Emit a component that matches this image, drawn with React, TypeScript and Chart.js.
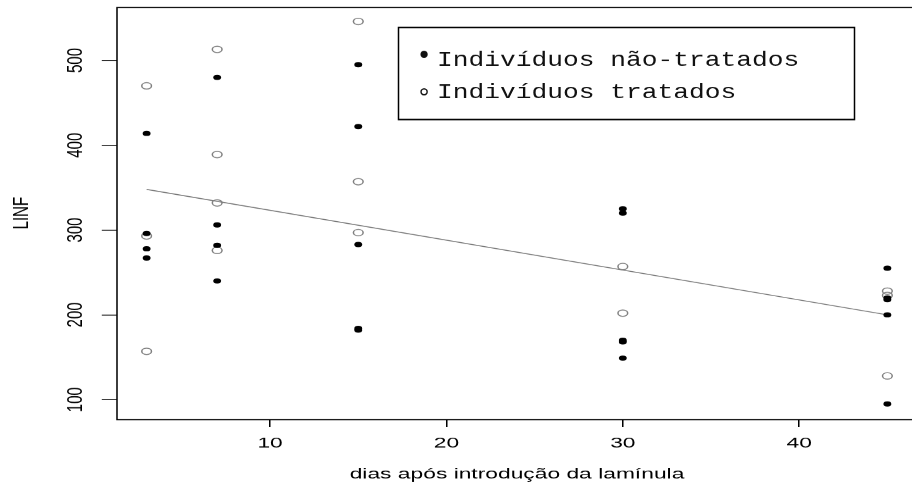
import React, { useEffect, useRef } from "react";
import { Chart, registerables } from "chart.js";

Chart.register(...registerables);

// ---- data ----
const untreatedX = [3, 3, 3, 3, 7, 7, 7, 7, 15, 15, 15, 15, 15, 30, 30, 30, 30, 30, 45, 45, 45, 45, 45];
const untreatedY = [414, 296, 278, 267, 480, 306, 282, 240, 495, 422, 283, 184, 182, 325, 320, 170, 168, 149, 255, 220, 218, 200, 95];
const treatedX = [3, 3, 3, 7, 7, 7, 7, 15, 15, 15, 30, 30, 45, 45, 45];
const treatedY = [470, 293, 157, 513, 389, 332, 276, 546, 357, 297, 257, 202, 228, 223, 128];
const fitX = [3, 45];
const fitY = [348, 200];
const xTicks = [10, 20, 30, 40];
const yTicks = [100, 200, 300, 400, 500];
const xRange = [1.32, 46.68];
const yRange = [77, 563];
const xTitle = "dias após introdução da lamínula";
const yTitle = "LINF";
const legendUntreated = "Indivíduos não-tratados";
const legendTreated = "Indivíduos tratados";

// ---- geometry (the reference is horizontally stretched) ----
const K = 1.52; // horizontal stretch
const W0 = 612;
const H0 = 489;

const toPts = (xs: number[], ys: number[]) => xs.map((x, i) => ({ x, y: ys[i] }));

const framePlugin = {
  id: "frame",
  afterDraw(chart: any) {
    const { ctx, chartArea } = chart;
    ctx.save();
    ctx.strokeStyle = "#000";
    ctx.lineWidth = 1;
    ctx.strokeRect(chartArea.left, chartArea.top + 0.5, chartArea.right - chartArea.left, chartArea.bottom - chartArea.top);
    ctx.restore();
  },
};

const legendPlugin = {
  id: "textLegend",
  afterDraw(chart: any) {
    const { ctx } = chart;
    ctx.save();
    ctx.scale(1 / K, 1); // display coordinates
    ctx.fillStyle = "#fff";
    ctx.fillRect(398, 27, 457, 93);
    ctx.strokeStyle = "#000";
    ctx.lineWidth = 1.5;
    ctx.strokeRect(398.5, 27.5, 456, 92);
    ctx.fillStyle = "#111";
    ctx.textBaseline = "alphabetic";
    ctx.textAlign = "left";
    const draw = (t: string, x: number, y: number, size: number, hs: number) => {
      ctx.save();
      ctx.translate(x, y);
      ctx.scale(hs, 1);
      ctx.font = `${size}px "Liberation Mono", "DejaVu Sans Mono", monospace`;
      ctx.fillText(t, 0, 0);
      ctx.restore();
    };
    draw("•", 416, 63, 27, 1.0);
    draw(legendUntreated, 437, 66, 21, 1.25);
    draw("°", 416, 106, 27, 1.0);
    draw(legendTreated, 437, 98, 21, 1.25);
    ctx.restore();
  },
};

export default function App() {
  const ref = useRef<HTMLCanvasElement | null>(null);

  useEffect(() => {
    if (!ref.current) return;
    const font = { family: '"Liberation Sans", Arial, Helvetica, sans-serif', size: 15 };
    const chart = new Chart(ref.current, {
      type: "scatter",
      data: {
        datasets: [
          {
            label: legendUntreated,
            data: toPts(untreatedX, untreatedY),
            pointStyle: "circle",
            pointRadius: 2.6,
            pointBackgroundColor: "#000",
            pointBorderColor: "#000",
            pointBorderWidth: 0,
            order: 0,
          },
          {
            label: legendTreated,
            data: toPts(treatedX, treatedY),
            pointStyle: "circle",
            pointRadius: 3.2,
            pointBackgroundColor: "rgba(255,255,255,0)",
            pointBorderColor: "#808080",
            pointBorderWidth: 1,
            order: 1,
          },
          {
            type: "line",
            label: "fit",
            data: toPts(fitX, fitY),
            borderColor: "#777",
            borderWidth: 1,
            pointRadius: 0,
            fill: false,
            order: 2,
          } as any,
        ],
      },
      options: {
        responsive: false,
        animation: false,
        devicePixelRatio: K,
        events: [],
        layout: { padding: { top: 7, right: W0 - 917 / K, left: 0, bottom: 0 } },
        plugins: { legend: { display: false }, tooltip: { enabled: false } },
        scales: {
          x: {
            type: "linear",
            min: xRange[0],
            max: xRange[1],
            afterBuildTicks: (s: any) => {
              s.ticks = xTicks.map((v) => ({ value: v }));
            },
            afterFit: (s: any) => {
              s.height = 70;
              s.paddingLeft = 0;
              s.paddingRight = 0;
            },
            grid: { drawOnChartArea: false, drawTicks: true, tickLength: 8, color: "#000", lineWidth: 1 },
            border: { display: false },
            ticks: { autoSkip: false, padding: 7, color: "#000", font, maxRotation: 0 },
            title: { display: true, text: xTitle, color: "#000", font, padding: { top: 0, bottom: 6 } },
          },
          y: {
            type: "linear",
            min: yRange[0],
            max: yRange[1],
            afterBuildTicks: (s: any) => {
              s.ticks = yTicks.map((v) => ({ value: v }));
            },
            afterFit: (s: any) => {
              s.width = 117 / K;
              s.paddingTop = 0;
              s.paddingBottom = 0;
            },
            grid: { drawOnChartArea: false, drawTicks: true, tickLength: 10, color: "#000", lineWidth: 1 },
            border: { display: false },
            ticks: {
              autoSkip: false,
              padding: 4.5,
              color: "#000",
              font,
              minRotation: 90,
              maxRotation: 90,
              crossAlign: "center",
            },
            title: { display: true, text: yTitle, color: "#000", font, padding: { top: 5, bottom: 0 } },
          },
        },
      },
      plugins: [framePlugin, legendPlugin],
    });
    return () => chart.destroy();
  }, []);

  return (
    <div style={{ position: "fixed", left: 0, top: 0, width: 912, height: 489, overflow: "hidden", background: "#fff" }}>
      <canvas ref={ref} width={W0} height={H0} style={{ width: `${W0 * K}px`, height: `${H0}px`, display: "block" }} />
    </div>
  );
}
